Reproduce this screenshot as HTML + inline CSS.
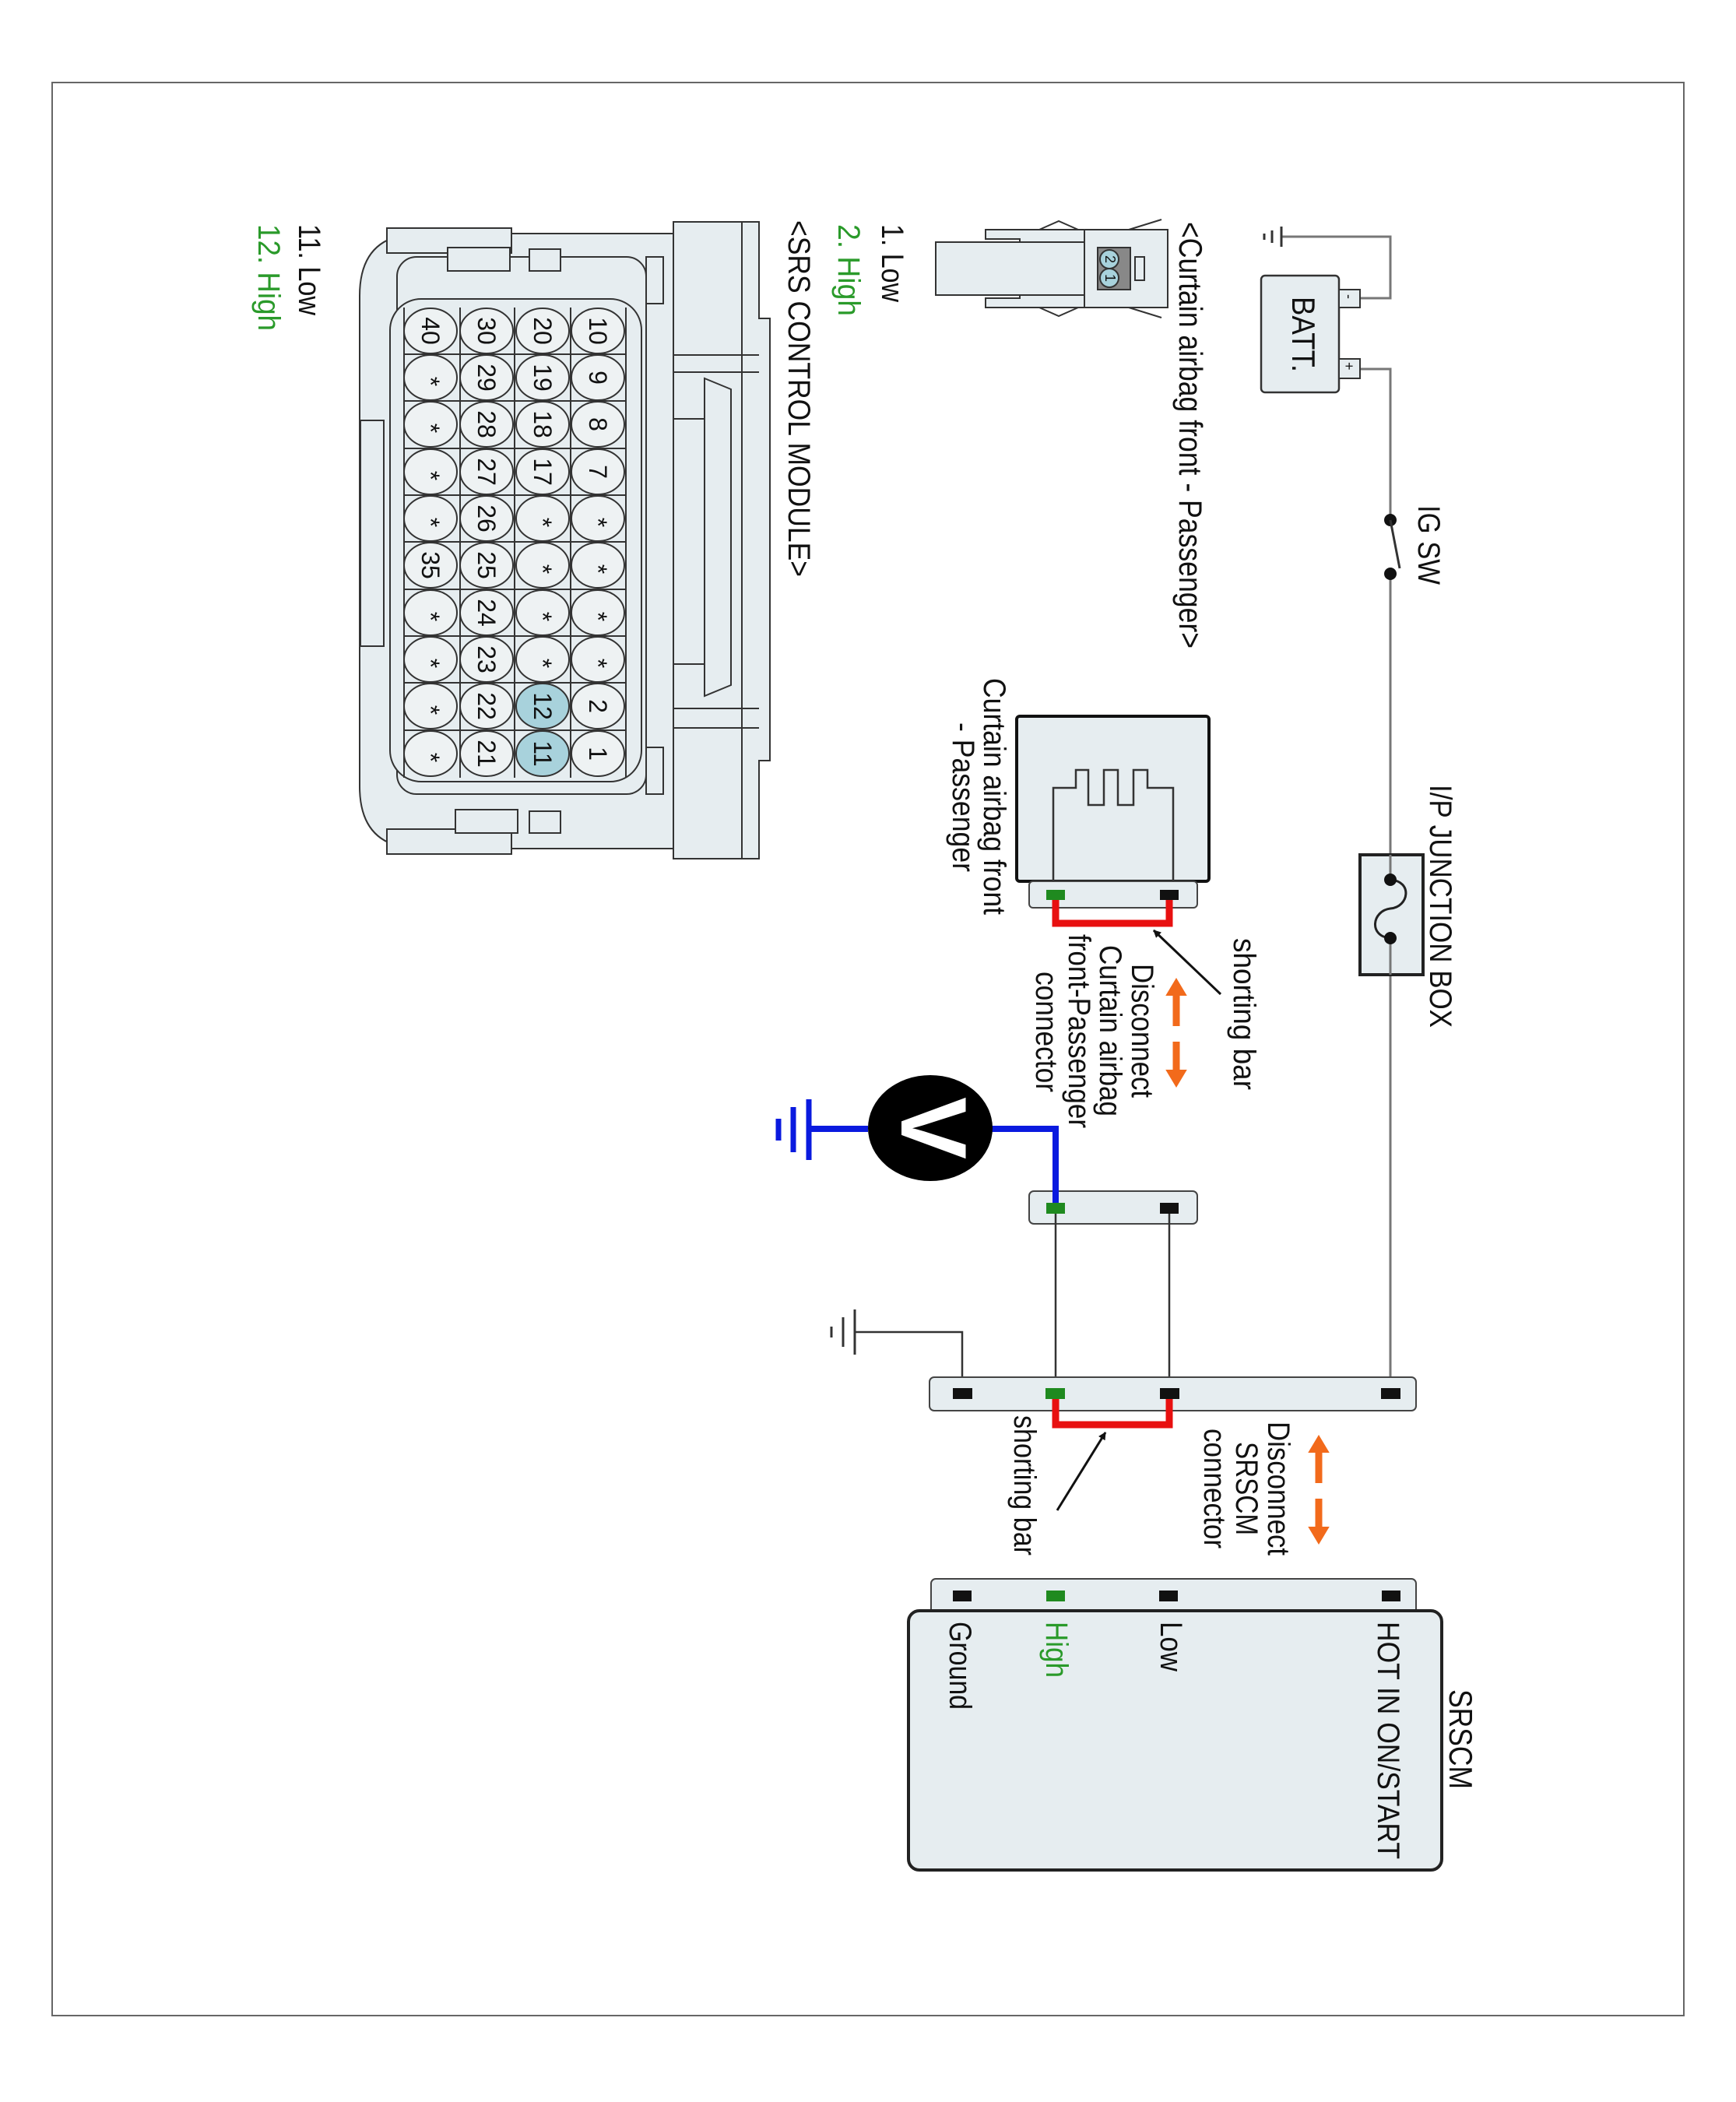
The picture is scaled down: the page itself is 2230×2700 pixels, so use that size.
<!DOCTYPE html>
<html><head><meta charset="utf-8"><style>
html,body{margin:0;padding:0;background:#fff;}
svg{display:block;}
text{font-family:"Liberation Sans",Arial,sans-serif;fill:#111;}
</style></head><body>
<svg width="2230" height="2700" viewBox="0 0 2230 2700" xmlns="http://www.w3.org/2000/svg">
<defs>
<marker id="ah" markerWidth="10" markerHeight="10" refX="9" refY="5" orient="auto" markerUnits="userSpaceOnUse" viewBox="0 0 10 10"><path d="M0,0 L10,5 L0,10 z" fill="#111"/></marker>
</defs>
<rect x="0" y="0" width="2230" height="2700" fill="#fff"/>
<rect x="67" y="106" width="2096" height="2483" fill="none" stroke="#666" stroke-width="2"/>

<g stroke="#333" stroke-width="2" fill="#e6edf0">
<path d="M865,285 L975,285 L975,409 L989,409 L989,977 L975,977 L975,1103 L865,1103 Z"/>
<path d="M540,300 L865,300 L865,1090 L540,1090 Q462,1090 462,1010 L462,380 Q462,300 540,300 Z"/>
<rect x="497" y="293" width="160" height="32"/>
<rect x="497" y="1065" width="160" height="32"/>
<rect x="510" y="330" width="320" height="690" rx="25" fill="#e6edf0"/>
<path d="M905,486 L939,500 L939,880 L905,894 Z"/>
<rect x="865" y="538" width="40" height="315"/>
<line x1="953" y1="285" x2="953" y2="1103"/>
<line x1="865" y1="456" x2="975" y2="456"/>
<line x1="865" y1="478" x2="975" y2="478"/>
<line x1="865" y1="910" x2="975" y2="910"/>
<line x1="865" y1="935" x2="975" y2="935"/>
<rect x="575" y="318" width="80" height="30"/>
<rect x="585" y="1040" width="80" height="30"/>
<rect x="680" y="320" width="40" height="28"/>
<rect x="680" y="1042" width="40" height="28"/>
<rect x="830" y="330" width="22" height="60"/>
<rect x="830" y="960" width="22" height="60"/>
<rect x="463" y="540" width="30" height="290"/>
<rect x="501" y="384" width="323" height="620" rx="40"/>
</g>
<g stroke="#333" stroke-width="2" fill="none">
<line x1="519" y1="395" x2="519" y2="999"/>
<line x1="591" y1="395" x2="591" y2="999"/>
<line x1="661" y1="395" x2="661" y2="999"/>
<line x1="733" y1="395" x2="733" y2="999"/>
<line x1="804" y1="395" x2="804" y2="999"/>
<line x1="519" y1="455" x2="804" y2="455"/>
<line x1="519" y1="515" x2="804" y2="515"/>
<line x1="519" y1="576" x2="804" y2="576"/>
<line x1="519" y1="636" x2="804" y2="636"/>
<line x1="519" y1="696" x2="804" y2="696"/>
<line x1="519" y1="757" x2="804" y2="757"/>
<line x1="519" y1="817" x2="804" y2="817"/>
<line x1="519" y1="877" x2="804" y2="877"/>
<line x1="519" y1="938" x2="804" y2="938"/>
</g>
<g stroke="#333" stroke-width="2" fill="#eef2f3">
<ellipse cx="768" cy="425" rx="34" ry="29"/><ellipse cx="768" cy="485" rx="34" ry="29"/><ellipse cx="768" cy="545" rx="34" ry="29"/><ellipse cx="768" cy="606" rx="34" ry="29"/><ellipse cx="768" cy="666" rx="34" ry="29"/><ellipse cx="768" cy="726" rx="34" ry="29"/><ellipse cx="768" cy="787" rx="34" ry="29"/><ellipse cx="768" cy="847" rx="34" ry="29"/><ellipse cx="768" cy="907" rx="34" ry="29"/><ellipse cx="768" cy="968" rx="34" ry="29"/>
<ellipse cx="697" cy="425" rx="34" ry="29"/><ellipse cx="697" cy="485" rx="34" ry="29"/><ellipse cx="697" cy="545" rx="34" ry="29"/><ellipse cx="697" cy="606" rx="34" ry="29"/><ellipse cx="697" cy="666" rx="34" ry="29"/><ellipse cx="697" cy="726" rx="34" ry="29"/><ellipse cx="697" cy="787" rx="34" ry="29"/><ellipse cx="697" cy="847" rx="34" ry="29"/><ellipse cx="697" cy="907" rx="34" ry="29" fill="#a8d2dc"/><ellipse cx="697" cy="968" rx="34" ry="29" fill="#a8d2dc"/>
<ellipse cx="625" cy="425" rx="34" ry="29"/><ellipse cx="625" cy="485" rx="34" ry="29"/><ellipse cx="625" cy="545" rx="34" ry="29"/><ellipse cx="625" cy="606" rx="34" ry="29"/><ellipse cx="625" cy="666" rx="34" ry="29"/><ellipse cx="625" cy="726" rx="34" ry="29"/><ellipse cx="625" cy="787" rx="34" ry="29"/><ellipse cx="625" cy="847" rx="34" ry="29"/><ellipse cx="625" cy="907" rx="34" ry="29"/><ellipse cx="625" cy="968" rx="34" ry="29"/>
<ellipse cx="553" cy="425" rx="34" ry="29"/><ellipse cx="553" cy="485" rx="34" ry="29"/><ellipse cx="553" cy="545" rx="34" ry="29"/><ellipse cx="553" cy="606" rx="34" ry="29"/><ellipse cx="553" cy="666" rx="34" ry="29"/><ellipse cx="553" cy="726" rx="34" ry="29"/><ellipse cx="553" cy="787" rx="34" ry="29"/><ellipse cx="553" cy="847" rx="34" ry="29"/><ellipse cx="553" cy="907" rx="34" ry="29"/><ellipse cx="553" cy="968" rx="34" ry="29"/>
</g>
<g font-size="32" text-anchor="middle">
<text transform="translate(757,425) rotate(90)">10</text><text transform="translate(757,485) rotate(90)">9</text><text transform="translate(757,545) rotate(90)">8</text><text transform="translate(757,606) rotate(90)">7</text><text transform="translate(757,671) rotate(90)">*</text><text transform="translate(757,731) rotate(90)">*</text><text transform="translate(757,792) rotate(90)">*</text><text transform="translate(757,852) rotate(90)">*</text><text transform="translate(757,907) rotate(90)">2</text><text transform="translate(757,968) rotate(90)">1</text>
<text transform="translate(686,425) rotate(90)">20</text><text transform="translate(686,485) rotate(90)">19</text><text transform="translate(686,545) rotate(90)">18</text><text transform="translate(686,606) rotate(90)">17</text><text transform="translate(686,671) rotate(90)">*</text><text transform="translate(686,731) rotate(90)">*</text><text transform="translate(686,792) rotate(90)">*</text><text transform="translate(686,852) rotate(90)">*</text><text transform="translate(686,907) rotate(90)">12</text><text transform="translate(686,968) rotate(90)">11</text>
<text transform="translate(614,425) rotate(90)">30</text><text transform="translate(614,485) rotate(90)">29</text><text transform="translate(614,545) rotate(90)">28</text><text transform="translate(614,606) rotate(90)">27</text><text transform="translate(614,666) rotate(90)">26</text><text transform="translate(614,726) rotate(90)">25</text><text transform="translate(614,787) rotate(90)">24</text><text transform="translate(614,847) rotate(90)">23</text><text transform="translate(614,907) rotate(90)">22</text><text transform="translate(614,968) rotate(90)">21</text>
<text transform="translate(542,425) rotate(90)">40</text><text transform="translate(542,490) rotate(90)">*</text><text transform="translate(542,550) rotate(90)">*</text><text transform="translate(542,611) rotate(90)">*</text><text transform="translate(542,671) rotate(90)">*</text><text transform="translate(542,726) rotate(90)">35</text><text transform="translate(542,792) rotate(90)">*</text><text transform="translate(542,852) rotate(90)">*</text><text transform="translate(542,912) rotate(90)">*</text><text transform="translate(542,973) rotate(90)">*</text>
</g>

<g stroke="#333" stroke-width="2" fill="#e6edf0">
<rect x="1202" y="311" width="191" height="68"/>
<path d="M1266,295 L1393,295 L1393,311 L1310,311 L1310,307 L1266,307 Z"/>
<path d="M1266,395 L1393,395 L1393,379 L1310,379 L1310,383 L1266,383 Z"/>
<rect x="1393" y="295" width="107" height="100"/>
<rect x="1458" y="330" width="12" height="30"/>
<rect x="1410" y="318" width="42" height="54" fill="#888"/>
<circle cx="1425" cy="333" r="12" fill="#a8d2dc"/>
<circle cx="1425" cy="357" r="12" fill="#a8d2dc"/>
</g>
<g stroke="#333" stroke-width="2" fill="none">
<polyline points="1335,295 1360,284 1385,295"/>
<polyline points="1335,395 1360,406 1385,395"/>
<line x1="1450" y1="295" x2="1492" y2="282"/>
<line x1="1450" y1="395" x2="1492" y2="408"/>
</g>
<text transform="translate(1420,333) rotate(90)" font-size="18" text-anchor="middle">2</text>
<text transform="translate(1420,357) rotate(90)" font-size="18" text-anchor="middle">1</text>

<g stroke="#777" stroke-width="3" fill="none">
<polyline points="1747,383 1786,383 1786,304 1646,304"/>
<polyline points="1747,474 1786,474 1786,668"/>
<line x1="1786" y1="737" x2="1786" y2="1098"/>
<line x1="1786" y1="1252" x2="1786" y2="1790"/>
</g>
<g stroke="#333" stroke-width="3">
<line x1="1646" y1="291" x2="1646" y2="317"/>
<line x1="1634" y1="296" x2="1634" y2="312"/>
<line x1="1624" y1="300" x2="1624" y2="308"/>
</g>
<rect x="1620" y="354" width="100" height="150" rx="5" fill="#e6edf0" stroke="#333" stroke-width="2.5"/>
<rect x="1720" y="372" width="27" height="23" fill="#e6edf0" stroke="#333" stroke-width="2"/>
<rect x="1720" y="461" width="27" height="25" fill="#e6edf0" stroke="#333" stroke-width="2"/>
<text transform="translate(1727,378) rotate(90)" font-size="18">-</text>
<text transform="translate(1727,465) rotate(90)" font-size="18">+</text>
<text transform="translate(1660,381) rotate(90)" font-size="42" textLength="97" lengthAdjust="spacingAndGlyphs">BATT.</text>
<circle cx="1786" cy="668" r="8" fill="#111"/>
<circle cx="1786" cy="737" r="8" fill="#111"/>
<line x1="1786" y1="668" x2="1798" y2="730" stroke="#333" stroke-width="3"/>
<text transform="translate(1822,649) rotate(90)" font-size="40" textLength="102" lengthAdjust="spacingAndGlyphs">IG SW</text>

<rect x="1747" y="1098" width="81" height="154" fill="#e6edf0" stroke="#222" stroke-width="4"/>
<line x1="1786" y1="1098" x2="1786" y2="1130" stroke="#777" stroke-width="3"/>
<line x1="1786" y1="1205" x2="1786" y2="1252" stroke="#777" stroke-width="3"/>
<path d="M1786,1130 C1815,1132 1810,1165 1786,1167 C1762,1170 1758,1203 1786,1205" fill="none" stroke="#222" stroke-width="3"/>
<circle cx="1786" cy="1130" r="8" fill="#111"/>
<circle cx="1786" cy="1205" r="8" fill="#111"/>
<text transform="translate(1837,1008) rotate(90)" font-size="40" textLength="312" lengthAdjust="spacingAndGlyphs">I/P JUNCTION BOX</text>

<text transform="translate(1515,285) rotate(90)" font-size="42" textLength="548" lengthAdjust="spacingAndGlyphs">&lt;Curtain airbag front - Passenger&gt;</text>
<text transform="translate(1133,288) rotate(90)" font-size="40" textLength="100" lengthAdjust="spacingAndGlyphs">1. Low</text>
<text transform="translate(1077,288) rotate(90)" font-size="40" style="fill:#2a9a2a" textLength="118" lengthAdjust="spacingAndGlyphs">2. High</text>
<text transform="translate(1013,283) rotate(90)" font-size="40" textLength="458" lengthAdjust="spacingAndGlyphs">&lt;SRS CONTROL MODULE&gt;</text>
<text transform="translate(384,288) rotate(90)" font-size="40" textLength="117" lengthAdjust="spacingAndGlyphs">11. Low</text>
<text transform="translate(332,288) rotate(90)" font-size="40" style="fill:#2a9a2a" textLength="137" lengthAdjust="spacingAndGlyphs">12. High</text>

<rect x="1306" y="920" width="247" height="212" rx="4" fill="#e6edf0" stroke="#111" stroke-width="4"/>
<rect x="1322" y="1132" width="216" height="34" rx="5" fill="#e6edf0" stroke="#444" stroke-width="2"/>
<polyline points="1353,1132 1353,1012 1382,1012 1382,989 1398,989 1398,1034 1418,1034 1418,989 1436,989 1436,1034 1456,1034 1456,989 1474,989 1474,1012 1507,1012 1507,1132" fill="none" stroke="#333" stroke-width="2.5"/>
<polyline points="1356,1150 1356,1186 1502,1186 1502,1150" fill="none" stroke="#e81010" stroke-width="9"/>
<rect x="1344" y="1143" width="24" height="13" fill="#1f8a1f"/>
<rect x="1490" y="1143" width="24" height="13" fill="#111"/>
<text transform="translate(1264,871) rotate(90)" font-size="40" textLength="304" lengthAdjust="spacingAndGlyphs">Curtain airbag front</text>
<text transform="translate(1224,928) rotate(90)" font-size="40" textLength="192" lengthAdjust="spacingAndGlyphs">- Passenger</text>

<text transform="translate(1585,1205) rotate(90)" font-size="40" textLength="195" lengthAdjust="spacingAndGlyphs">shorting bar</text>
<line x1="1568" y1="1277" x2="1482" y2="1195" stroke="#111" stroke-width="3" marker-end="url(#ah)"/>
<g stroke="#f26a1b" stroke-width="9" fill="#f26a1b">
<line x1="1511" y1="1275" x2="1511" y2="1318"/>
<line x1="1511" y1="1338" x2="1511" y2="1378"/>
<path d="M1499,1278 L1511,1258 L1523,1278 Z" stroke-width="2"/>
<path d="M1499,1375 L1511,1395 L1523,1375 Z" stroke-width="2"/>
</g>
<text transform="translate(1454,1238) rotate(90)" font-size="40" textLength="172" lengthAdjust="spacingAndGlyphs">Disconnect</text>
<text transform="translate(1413,1214) rotate(90)" font-size="40" textLength="220" lengthAdjust="spacingAndGlyphs">Curtain airbag</text>
<text transform="translate(1373,1200) rotate(90)" font-size="40" textLength="249" lengthAdjust="spacingAndGlyphs">front-Passenger</text>
<text transform="translate(1331,1248) rotate(90)" font-size="40" textLength="155" lengthAdjust="spacingAndGlyphs">connector</text>

<rect x="1322" y="1530" width="216" height="42" rx="6" fill="#e6edf0" stroke="#444" stroke-width="2"/>
<line x1="1356" y1="1552" x2="1356" y2="1790" stroke="#333" stroke-width="2.5"/>
<line x1="1502" y1="1552" x2="1502" y2="1790" stroke="#333" stroke-width="2.5"/>
<polyline points="1356,1552 1356,1450 1274,1450" fill="none" stroke="#0a1adf" stroke-width="8"/>
<line x1="1115" y1="1450" x2="1039" y2="1450" stroke="#0a1adf" stroke-width="8"/>
<g stroke="#0a1adf" stroke-width="7">
<line x1="1039" y1="1412" x2="1039" y2="1490"/>
<line x1="1019" y1="1422" x2="1019" y2="1480"/>
<line x1="1000" y1="1437" x2="1000" y2="1465"/>
</g>
<ellipse cx="1195" cy="1449" rx="80" ry="68" fill="#000"/>
<text transform="translate(1158,1449) rotate(90)" font-size="120" font-weight="bold" text-anchor="middle" style="fill:#fff">V</text>
<rect x="1344" y="1545" width="24" height="14" fill="#1f8a1f"/>
<rect x="1490" y="1545" width="24" height="14" fill="#111"/>

<polyline points="1236,1790 1236,1711 1098,1711" fill="none" stroke="#333" stroke-width="2.5"/>
<g stroke="#333" stroke-width="3">
<line x1="1098" y1="1682" x2="1098" y2="1740"/>
<line x1="1083" y1="1692" x2="1083" y2="1730"/>
<line x1="1068" y1="1704" x2="1068" y2="1718"/>
</g>
<rect x="1194" y="1769" width="625" height="43" rx="6" fill="#e6edf0" stroke="#444" stroke-width="2"/>
<polyline points="1356,1795 1356,1830 1502,1830 1502,1795" fill="none" stroke="#e81010" stroke-width="9"/>
<rect x="1224" y="1783" width="25" height="14" fill="#111"/>
<rect x="1343" y="1783" width="25" height="14" fill="#1f8a1f"/>
<rect x="1490" y="1783" width="25" height="14" fill="#111"/>
<rect x="1774" y="1783" width="25" height="14" fill="#111"/>

<text transform="translate(1303,1818) rotate(90)" font-size="40" textLength="180" lengthAdjust="spacingAndGlyphs">shorting bar</text>
<line x1="1358" y1="1940" x2="1420" y2="1840" stroke="#111" stroke-width="3" marker-end="url(#ah)"/>

<g stroke="#f26a1b" stroke-width="9" fill="#f26a1b">
<line x1="1694" y1="1862" x2="1694" y2="1905"/>
<line x1="1694" y1="1925" x2="1694" y2="1965"/>
<path d="M1682,1865 L1694,1845 L1706,1865 Z" stroke-width="2"/>
<path d="M1682,1962 L1694,1982 L1706,1962 Z" stroke-width="2"/>
</g>
<text transform="translate(1629,1826) rotate(90)" font-size="40" textLength="172" lengthAdjust="spacingAndGlyphs">Disconnect</text>
<text transform="translate(1588,1852) rotate(90)" font-size="40" textLength="120" lengthAdjust="spacingAndGlyphs">SRSCM</text>
<text transform="translate(1547,1835) rotate(90)" font-size="40" textLength="154" lengthAdjust="spacingAndGlyphs">connector</text>

<rect x="1196" y="2028" width="623" height="45" rx="6" fill="#e6edf0" stroke="#444" stroke-width="2"/>
<rect x="1167" y="2069" width="685" height="333" rx="14" fill="#e6edf0" stroke="#222" stroke-width="4"/>
<rect x="1224" y="2043" width="24" height="14" fill="#111"/>
<rect x="1344" y="2043" width="24" height="14" fill="#1f8a1f"/>
<rect x="1489" y="2043" width="24" height="14" fill="#111"/>
<rect x="1775" y="2043" width="24" height="14" fill="#111"/>
<text transform="translate(1770,2083) rotate(90)" font-size="40" textLength="305" lengthAdjust="spacingAndGlyphs">HOT IN ON/START</text>
<text transform="translate(1491,2083) rotate(90)" font-size="40" textLength="64" lengthAdjust="spacingAndGlyphs">Low</text>
<text transform="translate(1344,2083) rotate(90)" font-size="40" style="fill:#2a9a2a" textLength="72" lengthAdjust="spacingAndGlyphs">High</text>
<text transform="translate(1220,2083) rotate(90)" font-size="40" textLength="113" lengthAdjust="spacingAndGlyphs">Ground</text>
<text transform="translate(1862,2170) rotate(90)" font-size="42" textLength="128" lengthAdjust="spacingAndGlyphs">SRSCM</text>
</svg>
</body></html>
